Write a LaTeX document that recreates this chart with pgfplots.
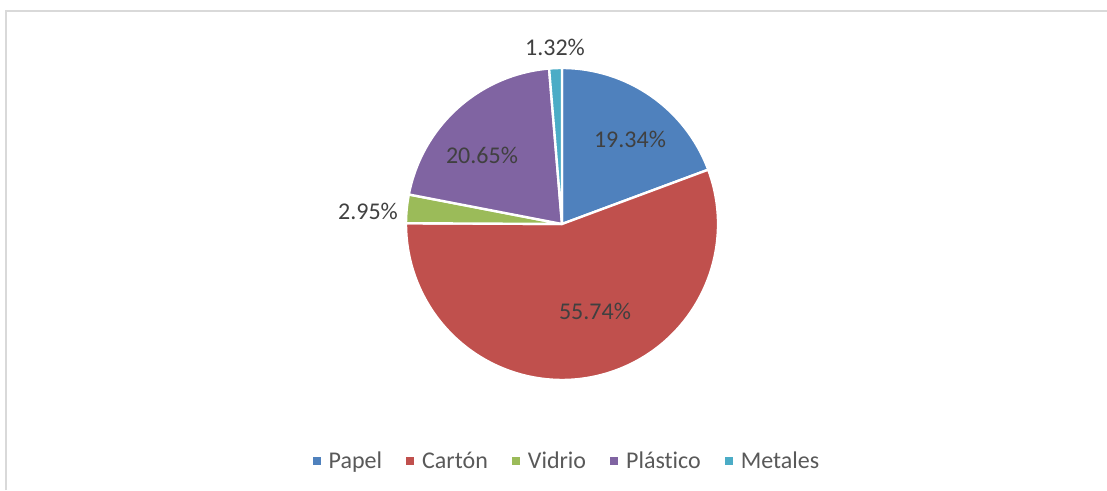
\documentclass[border=0pt]{standalone}
\usepackage{pgfplots}
\pgfplotsset{compat=1.18}
\usepackage{pgfplotstable}
\usepackage{fontspec}
\setmainfont{Carlito}[Ligatures=NoCommon]
\definecolor{papel}{HTML}{4F81BD}
\definecolor{carton}{HTML}{C0504D}
\definecolor{vidrio}{HTML}{9BBB59}
\definecolor{plastico}{HTML}{8064A2}
\definecolor{metales}{HTML}{4BACC6}
\definecolor{lbl}{HTML}{404040}
\definecolor{legtext}{HTML}{595959}
\definecolor{frame}{HTML}{D9D9D9}

\pgfplotstableread{
name value color
Papel 19.34 papel
Carton 55.74 carton
Vidrio 2.95 vidrio
Plastico 20.65 plastico
Metales 1.32 metales
}\piedata

\begin{document}
\begin{tikzpicture}
\begin{axis}[
  at={(0,0)}, anchor=south west,
  width=1107pt, height=490pt, scale only axis,
  xmin=0, xmax=1107, ymin=0, ymax=490,
  hide axis, clip=false,
  legend columns=-1,
  legend style={draw=none, fill=none, at={(axis cs:567,29)}, anchor=center,
    font=\fontsize{24}{28}\selectfont, text=legtext,
    /tikz/every even column/.append style={column sep=22pt}},
  legend cell align=left,
]
\draw[frame, line width=2pt] (axis cs:6,0) -- (axis cs:6,479) -- (axis cs:1107,479);
\pgfplotstablegetrowsof{\piedata}
\pgfmathtruncatemacro\N{\pgfplotsretval-1}
\def\curang{90}
\pgfplotsforeachungrouped \i in {0,...,\N}{%
  \pgfplotstablegetelem{\i}{value}\of\piedata \let\v\pgfplotsretval
  \pgfplotstablegetelem{\i}{color}\of\piedata \let\c\pgfplotsretval
  \pgfmathsetmacro\endang{\curang-3.6*\v}%
  \edef\temp{\noexpand\fill[\c, draw=white, line width=2.4pt, line join=round]
    (axis cs:562,266) -- ++(\curang:156pt) arc[start angle=\curang, end angle=\endang, radius=156pt] -- cycle;}%
  \temp
  \global\let\curang\endang
}
\addlegendimage{legend image code/.code={\fill[papel, draw=none] (0pt,-4pt) rectangle (8pt,4pt); \path[draw=none, fill=none] (0pt,0pt) -- (14pt,0pt);}}
\addlegendentry{Papel}
\addlegendimage{legend image code/.code={\fill[carton, draw=none] (0pt,-4pt) rectangle (8pt,4pt); \path[draw=none, fill=none] (0pt,0pt) -- (14pt,0pt);}}
\addlegendentry{Cartón}
\addlegendimage{legend image code/.code={\fill[vidrio, draw=none] (0pt,-4pt) rectangle (8pt,4pt); \path[draw=none, fill=none] (0pt,0pt) -- (14pt,0pt);}}
\addlegendentry{Vidrio}
\addlegendimage{legend image code/.code={\fill[plastico, draw=none] (0pt,-4pt) rectangle (8pt,4pt); \path[draw=none, fill=none] (0pt,0pt) -- (14pt,0pt);}}
\addlegendentry{Plástico}
\addlegendimage{legend image code/.code={\fill[metales, draw=none] (0pt,-4pt) rectangle (8pt,4pt); \path[draw=none, fill=none] (0pt,0pt) -- (14pt,0pt);}}
\addlegendentry{Metales}
\begin{scope}[every node/.style={text=lbl, font=\fontsize{24}{28}\selectfont}]
\node at (axis cs:630,351) {19.34\%};
\node at (axis cs:595,179) {55.74\%};
\node at (axis cs:368,279) {2.95\%};
\node at (axis cs:482,335) {20.65\%};
\node at (axis cs:555,443) {1.32\%};
\end{scope}
\end{axis}
\pgfresetboundingbox
\path (0,0) rectangle (1107pt,490pt);
\end{tikzpicture}
\end{document}
